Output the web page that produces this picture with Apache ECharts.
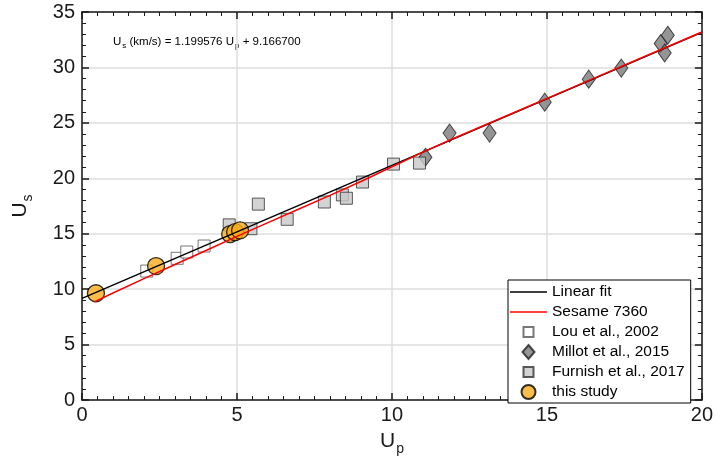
<!DOCTYPE html>
<html>
<head>
<meta charset="utf-8">
<script src="https://cdn.jsdelivr.net/npm/echarts@6/dist/echarts.min.js"></script>
<style>
  html, body { margin: 0; padding: 0; background: #fff; }
  #chart { width: 716px; height: 469px; }
</style>
</head>
<body>
<div id="chart"></div>
<script>
// axis ticks
var xTicks = [0, 5, 10, 15, 20];
var yTicks = [0, 5, 10, 15, 20, 25, 30, 35];

// linear fit Us = 1.199576 Up + 9.166700, drawn end to end
var fitLine = [[0, 9.1667], [20, 33.1582]];

// Sesame 7360 hugoniot
var sesame = [
    [0.4, 8.85], [1, 9.65], [2, 10.95], [3, 12.22], [4, 13.49], [5, 14.76],
    [6, 16.0], [7, 17.23], [8, 18.46], [9, 19.71], [10, 21.04], [11, 22.36],
    [12, 23.61], [14, 26.0], [16, 28.4], [18, 30.8], [20, 33.2]
];

// Lou et al., 2002
var lou = [[2.09, 11.63], [3.07, 12.78], [3.38, 13.35], [3.94, 13.89]];

// Millot et al., 2015
var millot = [
    [11.08, 21.9], [11.86, 24.08], [13.15, 24.08], [14.93, 26.87], [16.35, 28.94],
    [17.4, 29.94], [18.67, 32.16], [18.9, 32.9], [18.8, 31.3]
];

// Furnish et al., 2017
var furnish = [
    [4.75, 15.8], [5.45, 15.45], [5.69, 17.67], [6.62, 16.3], [7.82, 17.86],
    [8.4, 18.5], [8.53, 18.2], [9.05, 19.66], [10.05, 21.28], [10.89, 21.37]
];

// this study
var thisStudy = [[0.45, 9.63], [2.39, 12.08], [4.78, 14.97], [4.94, 15.15], [5.1, 15.3]];

var FONT = 'Liberation Sans';
var INK = '#1a1a1a';

var chart = echarts.init(document.getElementById('chart'));

function axisBase(min, max, step, minorSplit) {
    return {
        type: 'value',
        min: min,
        max: max,
        interval: step,
        axisLine: { show: true, onZero: false, lineStyle: { color: INK, width: 1.5 } },
        axisTick: { show: true, inside: true, length: 7, lineStyle: { color: INK, width: 1.5 } },
        minorTick: { show: true, splitNumber: minorSplit, length: 4, lineStyle: { color: INK, width: 1 } },
        splitLine: { show: false },
        axisLabel: { show: false }
    };
}

var xBottom = axisBase(xTicks[0], xTicks[xTicks.length - 1], 5, 10);
xBottom.position = 'bottom';
xBottom.splitLine = { show: true, lineStyle: { color: '#dedede', width: 1.5 } };
xBottom.axisLabel = { show: true, fontSize: 20, fontFamily: FONT, color: INK, margin: 5 };
xBottom.name = 'U{sub|p}';
xBottom.nameLocation = 'middle';
xBottom.nameGap = 26;
xBottom.nameTextStyle = {
    fontSize: 21, fontFamily: FONT, color: INK,
    rich: { sub: { fontSize: 14, fontFamily: FONT, color: INK, padding: [16, 0, 0, 1] } }
};

var xTop = axisBase(xTicks[0], xTicks[xTicks.length - 1], 5, 10);
xTop.position = 'top';

var yLeft = axisBase(yTicks[0], yTicks[yTicks.length - 1], 5, 5);
yLeft.position = 'left';
yLeft.splitLine = { show: true, lineStyle: { color: '#dedede', width: 1.5 } };
yLeft.axisLabel = { show: true, fontSize: 20, fontFamily: FONT, color: INK, margin: 7 };
yLeft.name = 'U{sub|s}';
yLeft.nameLocation = 'middle';
yLeft.nameGap = 47;
yLeft.nameTextStyle = {
    fontSize: 21, fontFamily: FONT, color: INK,
    rich: { sub: { fontSize: 14, fontFamily: FONT, color: INK, padding: [16, 0, 0, 1] } }
};

var yRight = axisBase(yTicks[0], yTicks[yTicks.length - 1], 5, 5);
yRight.position = 'right';

chart.setOption({
    animation: false,
    backgroundColor: '#fff',
    grid: { left: 82, right: 14, top: 12, bottom: 69 },
    xAxis: [xBottom, xTop],
    yAxis: [yLeft, yRight],
    legend: {
        orient: 'vertical',
        left: 508,
        top: 280,
        padding: [4, 6, 3, 2],
        itemWidth: 37,
        itemHeight: 14,
        itemGap: 4,
        backgroundColor: '#fff',
        borderColor: '#000',
        borderWidth: 1,
        borderRadius: 0,
        textStyle: { fontSize: 15.5, fontFamily: FONT, color: '#000' },
        data: [
            { name: 'Linear fit', icon: 'path://M0,0H37V1.4H0Z' },
            { name: 'Sesame 7360', icon: 'path://M0,0H37V1.4H0Z' },
            { name: 'Lou et al., 2002', icon: 'path://M0,0M2,2H12V12H2ZM14,14' },
            { name: 'Millot et al., 2015', icon: 'path://M7,0L13,7L7,14L1,7Z' },
            { name: 'Furnish et al., 2017', icon: 'path://M0,0M2,2H12V12H2ZM14,14' },
            { name: 'this study', icon: 'circle' }
        ]
    },
    graphic: [{
        type: 'text',
        left: 113,
        top: 36,
        style: {
            text: 'U{s|s} (km/s) = 1.199576 U{s|p} + 9.166700',
            fontSize: 11.5,
            fontFamily: FONT,
            fill: '#000',
            rich: { s: { fontSize: 8, fontFamily: FONT, fill: '#000', padding: [8, 0, 0, 1] } }
        }
    }],
    series: [
        {
            name: 'Linear fit', type: 'line', data: fitLine, symbol: 'none',
            lineStyle: { color: '#000', width: 1.5 }, itemStyle: { color: '#000' }
        },
        {
            name: 'Sesame 7360', type: 'line', data: sesame, symbol: 'none',
            lineStyle: { color: '#ff0000', width: 1.5 }, itemStyle: { color: '#ff0000' }
        },
        {
            name: 'Lou et al., 2002', type: 'scatter', data: lou, symbol: 'rect', symbolSize: 12,
            itemStyle: { color: '#ffffff', borderColor: '#555', borderWidth: 1 }
        },
        {
            name: 'Millot et al., 2015', type: 'scatter', data: millot, symbol: 'diamond', symbolSize: [13, 18],
            itemStyle: { color: '#7a7a7a', borderColor: '#222', borderWidth: 1 }
        },
        {
            name: 'Furnish et al., 2017', type: 'scatter', data: furnish, symbol: 'rect', symbolSize: 12,
            itemStyle: { color: '#c8c8c8', borderColor: '#333', borderWidth: 1 }
        },
        {
            name: 'this study', type: 'scatter', data: thisStudy, symbol: 'circle', symbolSize: 17,
            itemStyle: { color: '#f9ad1c', borderColor: '#000', borderWidth: 1.3 }
        }
    ]
});
</script>
</body>
</html>
